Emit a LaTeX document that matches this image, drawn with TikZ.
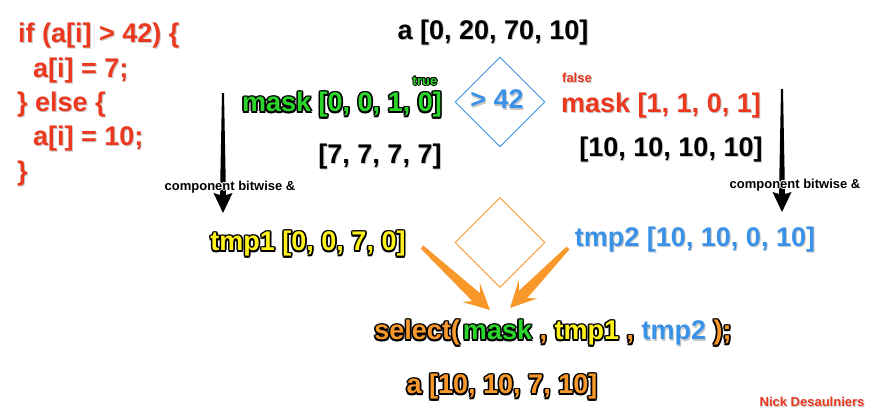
\documentclass[tikz,border=0pt]{standalone}
\usepackage{fontspec}
\setmainfont{Liberation Sans}
\usetikzlibrary{calc,shapes.geometric}
\definecolor{cred}{HTML}{EC381F}
\definecolor{cgreen}{HTML}{2BD62B}
\definecolor{cyellow}{HTML}{FFF21A}
\definecolor{cblue}{HTML}{3A92E8}
\definecolor{corange}{HTML}{F8982A}
\newlength\olw \newlength\olv
\newcommand\olbox[4]{\rlap{\kern#1\raisebox{#2}{\color{#3}#4}}}
\newcommand\outl[4][1.7pt]{{\olw=#1\relax\olv=0.7\olw
 \olbox{-\olw}{0pt}{#2}{#4}\olbox{\olw}{0pt}{#2}{#4}\olbox{0pt}{\olw}{#2}{#4}\olbox{0pt}{-\olw}{#2}{#4}%
 \olbox{\olv}{\olv}{#2}{#4}\olbox{-\olv}{\olv}{#2}{#4}\olbox{\olv}{-\olv}{#2}{#4}\olbox{-\olv}{-\olv}{#2}{#4}%
 {\color{#3}#4}}}
\newcommand\shad[2][black!22]{{\rlap{\kern1pt\raisebox{-1.2pt}{\color{#1}#2}}#2}}
\newcommand\taper[8]{%
 \path ($(#2)!#5!(#1)$) coordinate (tpJ) ($(#2)!#6!(#1)$) coordinate (tpH);
 \fill[#8] ($(#1)!#3!90:(#2)$) -- ($(tpJ)!#4!90:(#2)$) -- ($(tpH)!#7!90:(#2)$) -- (#2)
   -- ($(tpH)!#7!-90:(#2)$) -- ($(tpJ)!#4!-90:(#2)$) -- ($(#1)!#3!-90:(#2)$) -- cycle;}
\tikzset{
 big/.style={font=\fontsize{27}{32}\selectfont\bfseries, inner sep=0pt},
 small/.style={font=\fontsize{13}{15}\selectfont\bfseries, inner sep=0pt},
 dia/.style={diamond, draw=#1, line width=0.9pt, minimum width=90pt, minimum height=90pt, inner sep=0pt}
}
\begin{document}
\begin{tikzpicture}[x=1pt,y=-1pt]
\fill[white] (0,0) rectangle (875,413);
\useasboundingbox (0,0) rectangle (875,413);
% connector end points
\coordinate (la0) at (223,93);  \coordinate (la1) at (223,213);
\coordinate (ra0) at (782,89);  \coordinate (ra1) at (782,212);
\coordinate (lo0) at (422,247); \coordinate (lo1) at (490,310);
\coordinate (ro0) at (568,248); \coordinate (ro1) at (510,308);
\taper{la0}{la1}{1pt}{3pt}{18pt}{20pt}{9.5pt}{black}
\taper{ra0}{ra1}{1pt}{3pt}{18pt}{20pt}{9.5pt}{black}
\taper{lo0}{lo1}{2pt}{5.5pt}{19pt}{26pt}{13pt}{corange}
\taper{ro0}{ro1}{2pt}{5.5pt}{19pt}{26pt}{13pt}{corange}
% code
\node[big, anchor=base west, text=cred] (c1) at (18,42.5) {\shad{if (a[i] > 42) \{}};
\node[big, anchor=base west, text=cred] (c2) at (33,77) {\shad{a[i] = 7;}};
\node[big, anchor=base west, text=cred] (c3) at (17,111) {\shad{\} else \{}};
\node[big, anchor=base west, text=cred] (c4) at (33,145.5) {\shad{a[i] = 10;}};
\node[big, anchor=base west, text=cred] (c5) at (17,180) {\shad{\}}};
% top
\node[big] (ain) at (493,33) {\shad{a [0, 20, 70, 10]}};
\node[dia=cblue] (dblue) at (500,102) {};
\node[big, text=cblue] (gt) at (497,100) {\shad{> 42}};
\node[small] (true) at (425,81) {\outl[1pt]{black}{cgreen}{true}};
\node[big] (mask1) at (342,105) {\outl{black}{cgreen}{mask [0, 0, 1, 0]}};
\node[big] (sev) at (380,157) {\shad{[7, 7, 7, 7]}};
\node[small, text=cred] (false) at (577,78) {\shad[black!20]{false}};
\node[big, text=cred] (mask2) at (661,106) {\shad{mask [1, 1, 0, 1]}};
\node[big] (ten) at (671,150) {\shad{[10, 10, 10, 10]}};
\node[small] (cbl) at (230,187) {\outl[0.8pt]{white}{black}{component bitwise \&}};
\node[small] (cbr) at (795,185) {\outl[0.8pt]{white}{black}{component bitwise \&}};
% middle
\node[big] (tmp1) at (308,244) {\outl{black}{cyellow}{tmp1 [0, 0, 7, 0]}};
\node[dia=corange] (dor) at (500,242.5) {};
\node[big, text=cblue] (tmp2) at (695,240) {\shad{tmp2 [10, 10, 0, 10]}};
% bottom
\node[big] (sel) at (553,333) {\outl{black}{corange}{select(}\kern3pt\outl{black}{cgreen}{mask}\outl{black}{corange}{\ ,\ }\outl{black}{cyellow}{tmp1}\outl{black}{corange}{\ ,\ }{\color{cblue}\shad{tmp2}}\outl{black}{corange}{\ );}};
\node[big] (res) at (502,387) {\outl{black}{corange}{a [10, 10, 7, 10]}};
\node[small, text=cred] (nick) at (812,402) {\shad[black!20]{Nick Desaulniers}};
\end{tikzpicture}
\end{document}
